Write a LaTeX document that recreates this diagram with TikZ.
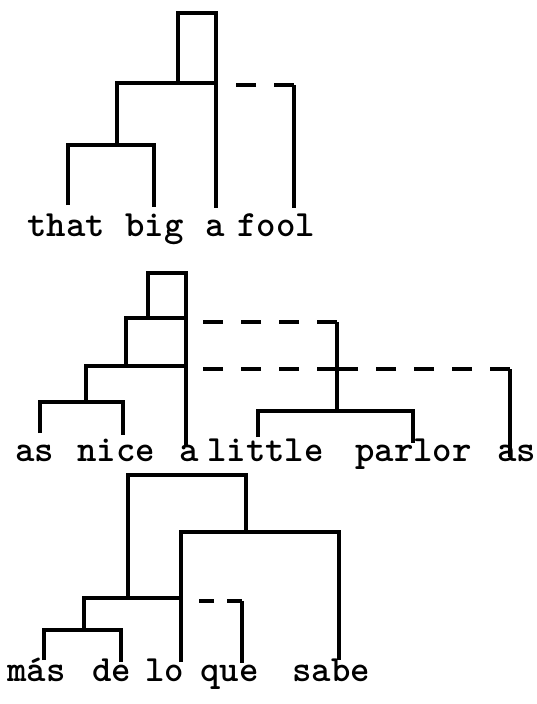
\documentclass[tikz,border=0pt]{standalone}

\begin{document}
\begin{tikzpicture}[
    x=1pt, y=-1pt,
    word/.style={font=\ttfamily\bfseries\fontsize{37}{37}\selectfont, anchor=base west, inner sep=0pt},
    branch/.style={line width=3.4pt, line join=miter},
    dashlink/.style={line width=3.4pt, dash pattern=on 20pt off 18pt}
  ]
    \useasboundingbox (0,0) rectangle (537,704);

% --- Tree 1: that big a fool ---
    \node[word] (that) at (27,236) {that};
    \node[word] (big)  at (125,236) {big};
    \node[word] (a1)   at (205,236) {a};
    \node[word] (fool) at (237,236) {fool};

    \coordinate (that-f) at (68,205);
    \coordinate (big-f)  at (154,207);
    \coordinate (a1-f)   at (216,208);
    \coordinate (fool-f) at (294,208);
    \coordinate (j1) at (117,145);
    \coordinate (j2) at (178,83);
    \coordinate (j3) at (216,83);
    \coordinate (r1) at (216,13);
    \coordinate (k1) at (294,85);

    \draw[branch] (that-f) |- (j1) -| (big-f);
    \draw[branch] (j1) |- (j3);
    \draw[branch] (j2) |- (r1) -- (a1-f);
    \draw[dashlink] (k1) -- (k1 -| a1-f);
    \draw[branch] (k1) -- (fool-f);

% --- Tree 2: as nice a little parlor as ---
    \node[word] (as1)    at (15,461) {as};
    \node[word] (nice)   at (77,461) {nice};
    \node[word] (a2)     at (179,461) {a};
    \node[word] (little) at (207,461) {little};
    \node[word] (parlor) at (355,461) {parlor};
    \node[word] (as2)    at (497,461) {as};

    \coordinate (as1-f)    at (40,433);
    \coordinate (nice-f)   at (123,435);
    \coordinate (a2-f)     at (186,447);
    \coordinate (little-f) at (258,437);
    \coordinate (parlor-f) at (413,443);
    \coordinate (as2-f)    at (510,457);
    \coordinate (m1) at (86,402);
    \coordinate (m2) at (126,366);
    \coordinate (m3) at (186,366);
    \coordinate (m4) at (186,318);
    \coordinate (m5) at (148,318);
    \coordinate (m6) at (186,273);
    \coordinate (k2) at (337,322);
    \coordinate (k3) at (337,411);
    \coordinate (k4) at (510,369);

    \draw[branch] (as1-f) |- (m1) -| (nice-f);
    \draw[branch] (m1) |- (m3);
    \draw[branch] (m2) |- (m4);
    \draw[branch] (m5) |- (m6) -- (a2-f);
    \draw[dashlink] (k2) -- (k2 -| a2-f);
    \draw[branch] (k2) -- (k3);
    \draw[branch] (little-f) |- (k3) -| (parlor-f);
    \draw[dashlink] (k4) -- (k4 -| k2);
    \draw[dashlink] (k2 |- k4) -- (k4 -| a2-f);
    \draw[branch] (k4) -- (as2-f);

% --- Tree 3: más de lo que sabe ---
    \node[word] (mas)  at (7,681) {más};
    \node[word] (de)   at (92,681) {de};
    \node[word] (lo)   at (145,681) {lo};
    \node[word] (que)  at (200,681) {que};
    \node[word] (sabe) at (292,681) {sabe};

    \coordinate (mas-f)  at (44,660);
    \coordinate (de-f)   at (121,662);
    \coordinate (lo-f)   at (181,662);
    \coordinate (que-f)  at (242,663);
    \coordinate (sabe-f) at (339,660);
    \coordinate (n1) at (84,630);
    \coordinate (n2) at (128,598);
    \coordinate (n3) at (181,598);
    \coordinate (n4) at (246,475);
    \coordinate (n5) at (246,532);
    \coordinate (k5) at (242,601);

    \draw[branch] (mas-f) |- (n1) -| (de-f);
    \draw[branch] (n1) |- (n3);
    \draw[branch] (n2) |- (n4) -- (n5);
    \draw[branch] (lo-f) |- (n5) -| (sabe-f);
    \draw[dashlink, dash pattern=on 15pt off 13pt, shorten >=18pt] (k5) -- (k5 -| lo-f);
    \draw[branch] (k5) -- (que-f);

\end{tikzpicture}
\end{document}
